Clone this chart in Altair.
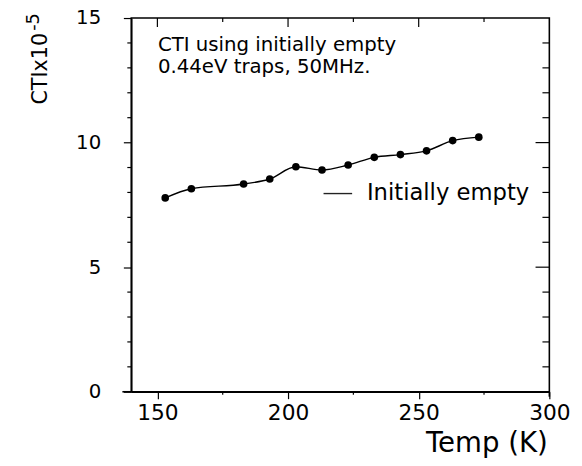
import altair as alt
import pandas as pd

# data
temps = [153, 163, 183, 193, 203, 213, 223, 233, 243, 253, 263, 273]
cti = [7.78, 8.15, 8.34, 8.54, 9.03, 8.90, 9.10, 9.41, 9.52, 9.67, 10.08, 10.22]

x_major = [150, 200, 250, 300]
x_minor = [175, 225, 275]
y_major = [0, 5, 10, 15]
y_minor = [1, 2, 3, 4, 6, 7, 8, 9, 11, 12, 13, 14]

note_lines = ["CTI using initially empty", "0.44eV traps, 50MHz."]
legend_label = ["Initially empty"]
y_title = ["CTIx10"]
y_title_exp = ["-5"]

W, H = 424, 379
FONT = "DejaVu Sans"

df = pd.DataFrame({"temp": temps, "cti": cti})
xs = alt.Scale(domain=[140, 300], nice=False, zero=False)
ys = alt.Scale(domain=[0, 15], nice=False, zero=True)

xaxis = alt.Axis(
    values=x_major, tickSize=7, tickColor="black", tickWidth=1.2,
    domainColor="black", domainWidth=1.6, grid=False,
    labelFont=FONT, labelFontSize=22, labelColor="black",
    labelBaseline="alphabetic", labelPadding=21, labelFlush=False, labelOverlap=False,
    title="Temp (K)", titleFont=FONT, titleFontSize=28, titleFontWeight="normal",
    titleColor="black", titleX=422, titleY=61, titleAlign="right", titleBaseline="alphabetic",
)
yaxis = alt.Axis(
    values=y_major, tickSize=8, tickColor="black", tickWidth=1.2,
    domainColor="black", domainWidth=1.6, grid=False,
    labelFont=FONT, labelFontSize=20, labelColor="black",
    labelPadding=23, labelFlush=False, labelOverlap=False,
    title=None,
)

X = alt.X("temp:Q", scale=xs, axis=xaxis)
Y = alt.Y("cti:Q", scale=ys, axis=yaxis)

line = alt.Chart(df).mark_line(color="black", strokeWidth=1.4, interpolate="monotone").encode(x=X, y=Y)
pts = alt.Chart(df).mark_circle(color="black", size=60, opacity=1).encode(x=X, y=Y)

xmin_df = pd.DataFrame({"temp": x_minor})
xmaj_top_df = pd.DataFrame({"temp": x_major[:-1]})
ymin_df = pd.DataFrame({"cti": y_minor})
ymaj_right_df = pd.DataFrame({"cti": y_major[1:-1]})

tick_style = dict(color="black", strokeWidth=1.2)
bottom_minor = alt.Chart(xmin_df).mark_rule(**tick_style).encode(x=X, y=alt.value(H), y2=alt.value(H + 3))
top_minor = alt.Chart(xmin_df).mark_rule(**tick_style).encode(x=X, y=alt.value(0), y2=alt.value(4))
top_major = alt.Chart(xmaj_top_df).mark_rule(**tick_style).encode(x=X, y=alt.value(0), y2=alt.value(9))
left_minor = alt.Chart(ymin_df).mark_rule(**tick_style).encode(y=Y, x=alt.value(0), x2=alt.value(-4))
right_minor = alt.Chart(ymin_df).mark_rule(**tick_style).encode(y=Y, x=alt.value(W), x2=alt.value(W - 7))
right_major = alt.Chart(ymaj_right_df).mark_rule(**tick_style).encode(y=Y, x=alt.value(W), x2=alt.value(W - 14))
# bottom axis line runs a little past the left frame, right frame a little below
axis_ext = alt.Chart(pd.DataFrame({"t": [0]})).mark_rule(color="black", strokeWidth=1.6).encode(
    x=alt.value(-9), x2=alt.value(0), y=alt.value(H)
)
right_ext = alt.Chart(pd.DataFrame({"t": [0]})).mark_rule(color="black", strokeWidth=1.6).encode(
    x=alt.value(W), y=alt.value(H), y2=alt.value(H + 5)
)

note1 = alt.Chart(pd.DataFrame({"t": [note_lines[0]]})).mark_text(
    font=FONT, fontSize=20, color="black", align="left", baseline="alphabetic"
).encode(x=alt.value(27), y=alt.value(33), text="t:N")
note2 = alt.Chart(pd.DataFrame({"t": [note_lines[1]]})).mark_text(
    font=FONT, fontSize=20, color="black", align="left", baseline="alphabetic"
).encode(x=alt.value(27), y=alt.value(56), text="t:N")

leg_line = alt.Chart(pd.DataFrame({"t": legend_label})).mark_rule(color="#222", strokeWidth=1.4).encode(
    x=alt.value(195), x2=alt.value(224), y=alt.value(178)
)
leg_text = alt.Chart(pd.DataFrame({"t": legend_label})).mark_text(
    font=FONT, fontSize=23, color="black", align="left", baseline="alphabetic"
).encode(x=alt.value(239), y=alt.value(185), text="t:N")

ytitle_main = alt.Chart(pd.DataFrame({"t": y_title})).mark_text(
    font=FONT, fontSize=21, color="black", align="right", baseline="alphabetic", angle=270
).encode(x=alt.value(-85), y=alt.value(15), text="t:N")
ytitle_exp = alt.Chart(pd.DataFrame({"t": y_title_exp})).mark_text(
    font=FONT, fontSize=18, color="black", align="right", baseline="alphabetic", angle=270
).encode(x=alt.value(-94), y=alt.value(-5), text="t:N")

chart = alt.layer(
    line, pts, bottom_minor, top_minor, top_major, left_minor, right_minor, right_major,
    axis_ext, right_ext, note1, note2, leg_line, leg_text, ytitle_main, ytitle_exp
).properties(
    width=W, height=H,
    autosize=alt.AutoSizeParams(type="none"),
    padding={"left": 125, "top": 7, "right": 25, "bottom": 64},
    background="white",
).configure_view(stroke="black", strokeWidth=1.6)

chart.save("out.html", embed_options={"renderer": "svg", "actions": False})
